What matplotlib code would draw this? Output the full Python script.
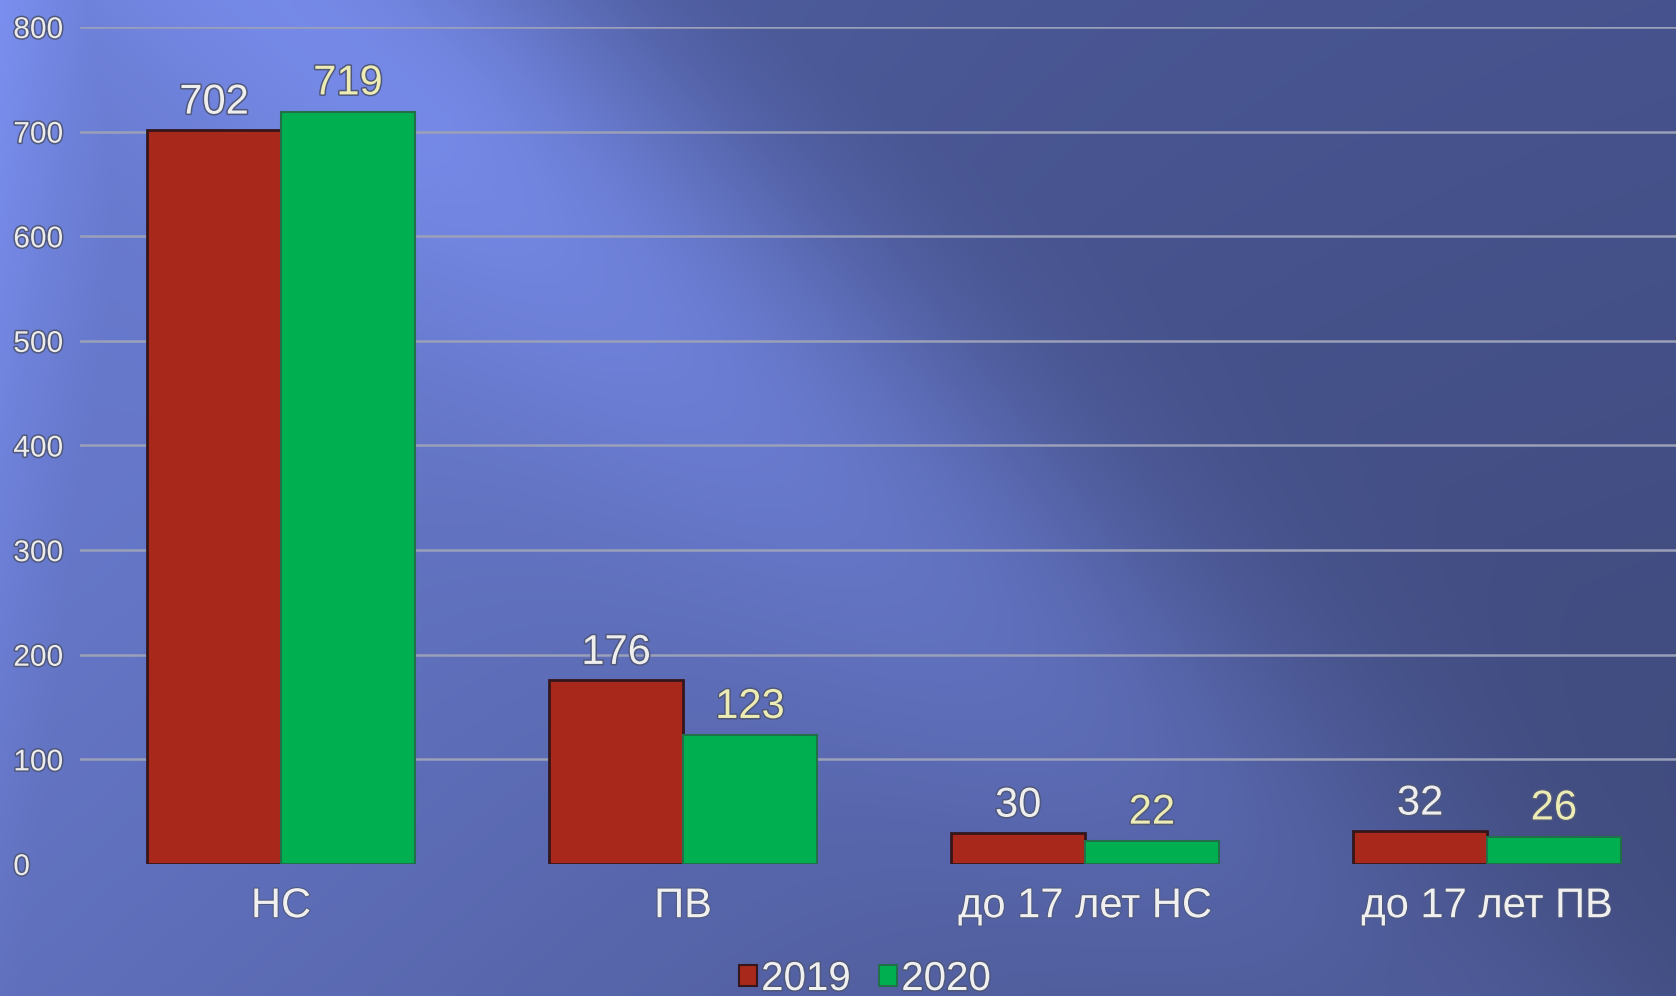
import numpy as np
import matplotlib
matplotlib.use("Agg")
import matplotlib.pyplot as plt
import matplotlib.patheffects as pe
from matplotlib.patches import Patch

plt.rcParams['font.family'] = ['Liberation Sans', 'DejaVu Sans']

categories = ["НС", "ПВ", "до 17 лет НС", "до 17 лет ПВ"]
series_names = ["2019", "2020"]
values_2019 = [702, 176, 30, 32]
values_2020 = [719, 123, 22, 26]
yticks = [0, 100, 200, 300, 400, 500, 600, 700, 800]

W, H = 1676, 996
fig = plt.figure(figsize=(W / 100, H / 100), dpi=100)

# background: diagonal light beam from the top-left
bg = fig.add_axes([0, 0, 1, 1], zorder=-10)
yy, xx = np.mgrid[0:932:466j, 0:1568:784j]
n = np.hypot(870, 800)
s = ((xx - 520) * 800 - yy * 870) / n          # signed distance to the beam edge
along = ((xx - 520) * 870 + yy * 800) / n
inside = 1 / (1 + np.exp(s / 70))
core = 0.62 + 0.38 * np.exp(-((s + 120) / 200) ** 2)
fade = np.clip(1.0 - np.clip(along, 0, None) / 1700, 0.3, 1)
beam = inside * core * fade
leftglow = np.exp(-xx / 320) * (1 - 0.45 * yy / 932)
t = np.clip(np.maximum(beam, leftglow), 0, 1)
light = np.array([0.48, 0.56, 0.94])
dark_top = np.array([0.285, 0.34, 0.585])
dark_bot = np.array([0.245, 0.285, 0.475])
fy = (yy / 932)[..., None] * 0.7 + (xx / 1568)[..., None] * 0.3
darkc = dark_top + (dark_bot - dark_top) * fy
img = darkc + (light - darkc) * t[..., None]
bg.imshow(np.clip(img, 0, 1), aspect='auto', extent=[0, 1, 0, 1], origin='upper', interpolation='bilinear')
bg.axis('off')

ax = fig.add_axes([80 / W, 1 - 864 / H, 1 - 80 / W, (864 - 27) / H])
ax.set_facecolor('none')
x = np.arange(len(categories))
bw = 0.333
b1 = ax.bar(x - bw / 2, values_2019, bw, color='#a8281c', edgecolor='#35161a', linewidth=2, zorder=3, label=series_names[0])
b2 = ax.bar(x + bw / 2, values_2020, bw, color='#00b050', edgecolor='#22704a', linewidth=1.5, zorder=3, label=series_names[1])

ax.set_xlim(-0.5, 3.47)
ax.set_ylim(0, 800)
ax.set_yticks(yticks)
ax.set_xticks(x)
ax.set_xticklabels(categories)
for sp in ax.spines.values():
    sp.set_visible(False)

stroke = [pe.withStroke(linewidth=2.2, foreground='#50587a')]
ax.tick_params(axis='y', length=0, pad=48, labelsize=21.5, labelcolor='#ececec')
for lab in ax.get_yticklabels():
    lab.set_horizontalalignment('left')
    lab.set_path_effects(stroke)
ax.tick_params(axis='x', length=0, pad=16, labelsize=30, labelcolor='#f0f0f0')
for lab in ax.get_xticklabels():
    lab.set_path_effects([pe.withStroke(linewidth=1.5, foreground='#50587a')])

ax.yaxis.grid(True, color='#9aa0b8', linewidth=1.8, zorder=0)
ax.set_axisbelow(True)
ax.get_ygridlines()[0].set_visible(False)

for rect, v in zip(b1, values_2019):
    ax.annotate(str(v), (rect.get_x() + rect.get_width() / 2, v), xytext=(0, 5),
                textcoords='offset points', ha='center', va='bottom', fontsize=30,
                color='#eeeeee', path_effects=stroke, zorder=5)
for rect, v in zip(b2, values_2020):
    ax.annotate(str(v), (rect.get_x() + rect.get_width() / 2, v), xytext=(0, 6),
                textcoords='offset points', ha='center', va='bottom', fontsize=30,
                color='#ececb4', path_effects=stroke, zorder=5)

handles = [Patch(facecolor='#a8281c', edgecolor='#35161a', linewidth=1.5),
           Patch(facecolor='#00b050', edgecolor='#22704a', linewidth=1.5)]
leg = fig.legend(handles, series_names, loc='center', bbox_to_anchor=(865 / W, 1 - 979 / H),
                 ncol=2, frameon=False, fontsize=29, handlelength=0.45, handleheight=0.45,
                 handletextpad=0.1, columnspacing=0.7, labelcolor='#f0f0f0')
for t_ in leg.get_texts():
    t_.set_path_effects(stroke)

fig.savefig('out.png', dpi=100)
